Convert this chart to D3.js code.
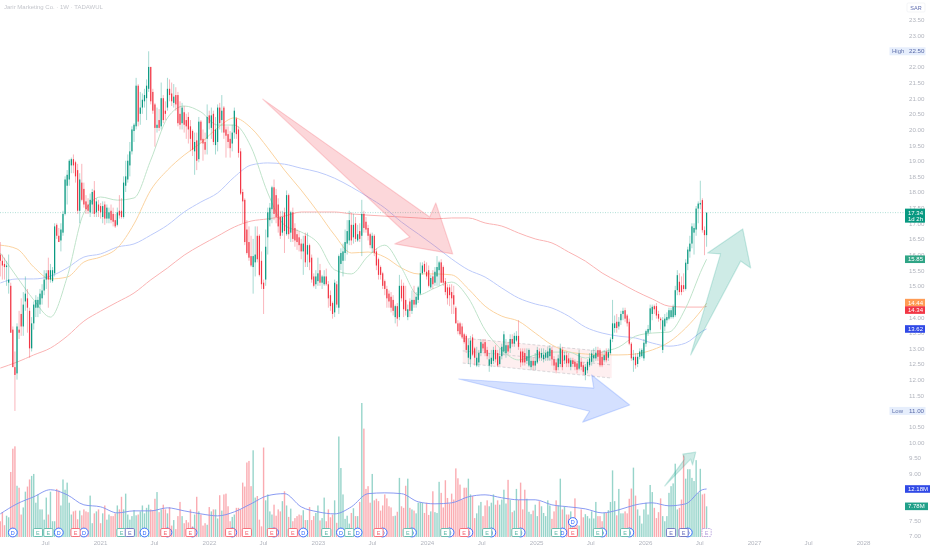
<!DOCTYPE html>
<html>
<head>
<meta charset="utf-8">
<script src="https://cdn.jsdelivr.net/npm/d3@7"></script>
<style>
  html, body { margin: 0; padding: 0; background: #fff; overflow: hidden; }
  svg { display: block; font-family: "Liberation Sans", Arial, sans-serif; filter: blur(0.3px); }
</style>
</head>
<body>
<div id="chart"></div>
<script>
// Weekly candles (first week 2020-02-02)
var opens = [
  16.0,15.8,15.7,15.6,15.1,15.0,13.6,12.4,12.2,13.6,
  14.1,13.7,14.5,14.6,14.2,13.0,13.8,14.3,14.3,14.4,
  14.6,14.85,15.2,15.5,15.2,15.15,15.4,16.95,16.6,16.45,
  16.7,17.3,18.2,18.4,18.85,19.05,18.95,18.7,17.4,18.3,
  18.1,17.7,17.6,17.35,17.6,18.05,17.35,17.6,17.55,17.2,
  17.6,17.15,17.15,17.4,17.3,17.1,16.95,17.4,17.4,17.2,
  18.2,18.4,18.85,19.3,19.95,20.1,21.4,20.5,20.7,20.9,
  21.0,21.3,22.0,21.2,20.8,20.05,20.3,20.1,21.0,20.6,
  20.7,21.3,21.15,20.85,21.1,21.1,20.5,20.2,20.55,20.3,
  20.4,20.1,19.95,19.3,19.65,19.05,20.25,19.7,19.6,19.7,
  20.45,20.05,20.5,19.5,19.6,20.7,20.3,20.7,20.0,19.85,
  19.7,19.55,19.9,20.35,20.0,19.3,18.0,17.75,16.8,16.4,
  15.95,15.6,15.75,16.6,16.6,15.8,15.1,15.2,16.55,17.1,
  17.45,18.15,17.9,17.6,17.2,16.7,17.35,16.65,17.9,16.7,
  17.35,16.85,16.65,16.55,16.35,16.1,16.6,16.0,16.3,15.9,
  15.3,15.05,15.15,15.5,15.1,15.05,15.3,15.05,14.7,14.45,
  14.15,15.05,14.3,15.7,15.8,16.05,16.35,16.45,16.95,16.55,
  17.0,16.45,16.75,16.6,17.3,17.05,16.85,16.65,16.2,16.6,
  16.1,15.85,15.6,15.4,15.15,14.9,14.75,14.65,14.55,14.0,
  14.35,14.0,15.0,15.0,14.55,14.0,14.5,14.2,14.55,14.4,
  14.55,14.75,15.4,15.7,15.45,15.5,14.95,15.3,15.1,15.3,
  15.5,15.75,15.6,15.15,14.95,14.95,14.8,14.7,14.3,13.8,
  13.8,13.7,13.45,13.4,12.7,12.65,13.35,13.0,12.45,12.55,
  12.85,13.15,13.2,12.95,12.45,12.5,12.6,12.95,12.85,12.5,
  12.75,12.9,12.85,13.1,13.0,13.3,13.15,13.25,13.4,12.9,
  12.9,12.85,12.6,12.45,12.4,12.6,12.45,12.55,12.9,12.7,
  12.65,12.7,12.7,12.75,12.95,12.65,12.55,12.4,12.5,12.95,
  12.62,12.78,12.68,12.41,12.62,12.57,12.52,12.35,12.57,12.46,
  12.15,12.3,12.46,12.57,12.68,12.68,12.94,12.94,12.73,12.62,
  12.9,12.7,12.85,13.3,13.65,13.85,13.7,13.9,14.1,14.22,
  14.05,13.85,13.15,12.62,12.73,12.5,12.73,12.75,12.68,13.15,
  13.5,13.58,14.1,14.35,14.35,14.1,13.95,12.95,13.7,13.9,
  13.95,14.0,14.0,14.06,14.86,15.13,15.02,15.02,14.9,15.7,
  16.1,16.35,16.7,16.8,17.47,17.6,17.74,16.78,16.62
];
var highs = [
  16.4,16.0,15.9,15.8,16.0,15.1,13.7,12.9,13.8,14.2,
  14.6,14.8,15.3,14.9,14.3,14.0,14.5,14.7,14.65,14.9,
  15.05,15.5,15.5,15.9,15.7,15.6,17.0,17.0,16.85,17.0,
  17.4,18.5,18.7,19.05,19.1,19.2,19.0,18.9,18.6,18.9,
  18.3,17.9,17.8,17.95,18.1,18.35,17.8,17.75,17.65,17.7,
  17.7,17.6,17.5,17.6,17.5,17.3,17.5,17.9,17.8,18.5,
  19.0,19.2,19.6,20.1,20.2,21.65,21.45,21.2,21.15,21.3,
  21.6,22.5,22.0,21.3,20.85,20.7,20.65,21.5,21.1,20.9,
  21.65,21.6,21.5,21.45,21.35,21.2,20.9,20.85,20.75,20.5,
  20.55,20.3,20.0,19.9,19.9,20.4,20.3,20.0,19.9,20.8,
  20.6,20.7,20.6,20.4,20.8,20.85,21.1,20.75,20.1,20.1,
  19.95,20.15,20.7,20.4,20.1,19.4,18.1,17.8,17.1,16.9,
  16.6,16.5,16.9,16.9,16.65,16.1,15.2,16.8,17.5,17.65,
  18.2,18.4,18.1,17.8,17.4,17.4,17.5,18.05,17.95,17.4,
  17.5,17.0,16.8,16.75,16.5,16.6,16.7,16.7,16.35,16.0,
  15.4,15.5,15.9,15.7,15.35,15.5,15.55,15.15,14.85,14.5,
  15.2,15.15,16.0,16.2,16.35,16.8,17.1,17.4,17.35,17.3,
  17.2,16.95,17.0,17.75,17.4,17.2,16.95,16.7,16.7,16.65,
  16.2,15.9,15.65,15.45,15.2,15.0,14.85,14.8,14.7,14.4,
  14.45,15.35,15.2,15.1,15.0,14.4,14.6,14.85,15.0,14.8,
  15.0,15.75,15.75,15.8,15.75,15.65,15.35,15.5,15.6,15.95,
  15.8,15.85,15.65,15.25,15.05,15.05,15.05,15.0,14.35,13.9,
  13.85,13.8,13.5,13.45,13.3,13.4,13.45,13.05,13.05,12.95,
  13.3,13.3,13.3,13.05,12.85,12.95,13.05,13.1,12.95,13.0,
  13.15,13.55,13.3,13.2,13.45,13.45,13.5,13.55,13.9,13.0,
  13.0,13.0,13.0,13.0,12.75,12.7,12.85,13.05,13.0,13.0,
  13.0,12.95,13.05,13.1,13.05,12.75,12.65,12.8,13.15,13.05,
  12.9,12.9,12.85,12.7,12.7,12.65,12.6,12.95,12.7,12.55,
  12.5,12.65,12.85,12.95,13.0,13.05,13.05,13.0,12.9,12.95,
  13.0,13.0,13.35,14.55,14.05,14.1,14.0,14.2,14.3,14.3,
  14.1,13.95,13.2,12.95,12.85,12.85,13.0,13.0,13.3,13.6,
  13.75,14.4,14.4,14.4,14.45,14.2,14.0,14.0,14.1,14.15,
  14.3,14.3,14.4,15.0,15.5,15.4,15.3,15.4,15.85,16.25,
  16.6,17.0,17.0,17.55,17.7,18.36,17.8,16.9,17.34
];
var lows = [
  15.3,15.2,15.2,15.0,14.75,13.5,12.4,11.0,12.0,13.3,
  13.4,13.4,14.2,13.5,12.7,12.9,13.6,14.0,14.0,14.1,
  14.4,14.7,14.9,14.3,15.1,15.1,15.3,16.5,16.4,16.1,
  16.6,17.25,17.6,18.2,18.6,18.6,18.3,17.3,17.0,17.7,
  17.5,17.3,17.3,17.2,17.3,17.2,17.2,17.2,17.15,17.0,
  16.95,17.0,17.0,17.0,16.9,16.85,16.9,17.15,17.15,17.15,
  18.0,18.3,18.5,19.2,19.6,20.0,20.1,20.15,20.5,20.7,
  20.3,21.2,20.8,20.5,19.45,19.9,19.95,20.0,20.2,20.3,
  20.6,20.9,20.75,20.7,20.6,20.1,20.0,20.0,19.9,19.7,
  19.55,19.3,19.15,18.55,18.7,18.95,19.55,19.0,19.2,19.2,
  20.0,19.7,19.5,19.2,19.3,20.0,19.9,19.7,19.1,19.4,
  19.1,19.3,19.7,19.7,19.1,17.9,17.0,16.3,16.0,15.8,
  15.6,14.75,15.3,15.75,15.3,14.9,14.1,15.0,16.0,16.9,
  17.0,17.1,17.0,16.7,16.5,16.6,16.05,16.6,16.5,16.4,
  16.4,16.25,16.15,16.1,15.85,15.35,15.6,15.6,15.5,15.1,
  14.95,14.9,15.0,15.0,14.9,15.0,15.0,14.3,14.2,13.95,
  14.0,14.3,14.1,15.5,15.3,15.8,16.0,16.3,16.3,16.35,
  16.4,16.4,16.4,15.95,16.7,16.7,16.45,16.2,16.05,15.95,
  15.5,15.2,15.2,14.9,14.7,14.3,14.3,14.15,14.05,13.8,
  13.7,13.9,14.5,14.0,14.05,13.9,14.0,14.1,14.3,14.3,
  14.45,14.7,15.35,15.4,15.2,14.95,14.9,14.9,15.0,15.0,
  15.0,15.1,15.0,14.7,14.4,14.35,14.1,14.1,13.8,13.45,
  13.4,13.3,13.15,12.85,12.5,12.4,12.75,12.45,12.4,12.4,
  12.75,12.9,12.75,12.65,12.25,12.4,12.5,12.55,12.4,12.45,
  12.65,12.8,12.7,12.8,12.85,13.05,13.05,13.2,12.95,12.4,
  12.45,12.45,12.5,12.4,12.3,12.3,12.3,12.5,12.6,12.6,
  12.55,12.6,12.6,12.6,12.45,12.3,12.2,12.3,12.4,12.3,
  12.5,12.4,12.4,12.3,12.4,12.3,12.2,12.3,12.3,12.15,
  11.98,12.2,12.4,12.45,12.55,12.6,12.6,12.4,12.4,12.55,
  12.55,12.6,12.8,13.2,13.5,13.5,13.6,13.75,13.9,13.85,
  13.7,13.1,12.6,12.25,12.35,12.4,12.65,12.7,12.6,13.05,
  13.4,13.5,13.9,14.1,13.95,13.85,13.6,12.85,13.55,13.8,
  13.9,13.95,13.95,14.0,14.7,14.7,14.7,14.8,14.85,15.5,
  15.9,16.2,16.0,16.6,17.0,17.45,16.7,15.98,16.25
];
var closes = [
  15.8,15.65,15.6,15.65,15.2,13.5,12.4,12.15,13.7,13.5,
  13.7,14.4,14.75,14.3,13.0,13.8,14.4,14.55,14.55,14.75,
  14.85,15.2,15.4,15.2,15.5,15.5,16.9,16.6,16.4,16.8,
  17.3,18.4,18.55,19.0,19.05,18.85,18.5,17.4,18.4,17.75,
  17.6,17.45,17.4,17.75,18.0,17.3,17.7,17.4,17.35,17.55,
  17.15,17.5,17.35,17.1,17.05,16.9,17.35,17.25,17.2,18.3,
  18.5,19.0,19.3,20.0,20.15,21.4,20.25,20.7,20.95,21.1,
  21.4,22.0,20.9,20.6,20.05,20.15,20.05,21.0,20.3,20.5,
  21.3,21.1,20.9,21.05,20.8,20.2,20.15,20.7,20.15,20.1,
  20.0,19.7,19.35,19.6,19.0,20.25,19.65,19.55,19.35,20.4,
  20.2,20.45,19.6,20.0,20.7,20.2,20.6,19.9,19.8,19.6,
  19.4,19.9,20.6,19.85,19.25,17.95,17.7,16.4,16.05,15.9,
  15.65,15.95,16.0,15.85,15.35,15.05,14.9,16.25,17.35,17.5,
  18.15,17.3,17.2,16.9,16.6,17.2,16.75,17.9,16.65,17.35,
  16.5,16.45,16.4,16.3,16.1,16.35,15.75,16.3,15.75,15.2,
  15.0,15.3,15.4,15.1,15.3,15.3,15.05,14.6,14.35,14.1,
  15.1,14.4,15.95,16.05,16.1,16.4,16.75,17.1,16.45,16.95,
  16.5,16.65,16.5,17.3,16.85,16.8,16.6,16.3,16.6,16.05,
  15.65,15.35,15.35,15.0,14.9,14.6,14.5,14.3,14.2,14.35,
  13.95,15.0,14.6,14.25,14.2,14.25,14.2,14.55,14.4,14.65,
  14.95,15.4,15.65,15.45,15.3,15.0,15.25,15.05,15.45,15.6,
  15.75,15.1,15.1,14.8,14.6,14.7,14.6,14.4,13.8,13.55,
  13.45,13.35,13.2,12.95,13.1,13.25,12.8,12.7,12.7,12.85,
  13.2,13.0,12.85,12.75,12.65,12.7,12.95,12.65,12.45,12.75,
  13.05,13.45,13.1,12.9,13.3,13.15,13.4,13.4,13.05,12.55,
  12.55,12.55,12.75,12.95,12.6,12.45,12.6,12.95,12.7,12.85,
  12.8,12.85,12.9,13.0,12.65,12.45,12.3,12.68,13.0,12.4,
  12.78,12.52,12.52,12.62,12.5,12.41,12.32,12.84,12.41,12.25,
  12.41,12.57,12.68,12.84,12.78,12.86,12.73,12.46,12.46,12.78,
  12.62,12.88,13.28,13.8,13.8,13.65,13.85,14.1,14.2,13.95,
  13.8,13.15,12.68,12.73,12.46,12.73,12.9,12.95,13.18,13.55,
  13.62,14.28,14.33,14.25,14.05,13.95,13.9,13.9,13.95,14.0,
  14.22,14.22,14.33,14.86,15.34,14.8,14.8,14.9,15.74,16.16,
  16.35,16.9,16.85,17.47,17.63,17.65,16.78,16.62,17.34
];
// Volume per week, millions
var volumes = [
  4,6.3,3,5.4,5,16.5,22.4,23,13,12.5,
  5.7,7.5,11.5,12.8,14.6,15.5,16,8.7,10.8,7,
  7,4.4,10,5.7,11.5,4,4,12.2,11.8,8,
  14.6,12,13.8,8.7,5.7,6.5,6.7,4.5,6.7,5.5,
  7,6.5,6.3,10.5,3.5,6,6.5,7,3.5,6,
  8,4.4,5.7,5.3,5.3,6,8,7,10.2,7,
  11,5.7,4.4,5.3,6.8,5.5,5.7,6.5,8,6,
  7.4,8.2,7,6.8,9.7,11.4,6.3,7,8.2,7,
  6,7.6,2.9,4.3,2,5.3,8.9,5.3,3.5,4.3,
  3.7,7,2.7,5.7,10.2,6.5,5.7,2.9,3.5,3.1,
  7.6,6.5,7,7,4.7,10.6,6.7,10.8,11,7.8,
  4,5.1,5.7,7.4,7.4,7,13.8,12.8,18.9,19.3,
  12.9,22,10,10.4,4.4,2.7,22.7,9.3,10.8,6.5,
  5.7,8.2,5.4,7,6.5,9.1,11.6,8,5.1,7.2,
  4,4.8,5.3,5.7,5.5,6.8,4.3,4.3,7.6,4.3,
  5.3,6.1,8,4.2,4.8,10,4,7,5,5.7,
  9.3,3.6,25.5,17.5,10.8,4.6,5.4,3.4,6.1,7.3,
  5.3,5.3,8.9,34,27.5,12.2,12.9,8.7,16,9.3,
  9.7,9.1,6.7,8,10.8,9.8,7.8,7.5,5.3,5.4,
  6.4,15,7.8,7.4,13,14.8,7.4,7,6.7,6,
  8.7,8.8,8.7,6.1,8.7,5.6,6.5,11.6,6.3,6.1,
  14,11.2,7.5,14.4,9.9,8.5,11,9.5,17.4,14.9,
  13.3,9.5,12.5,12.5,14.8,10.8,10.4,4.8,6,8,
  8.9,5.3,8,9.3,7.8,8.7,10.8,8.2,9.3,8.2,
  9.5,12,8.5,14.5,9.4,6.3,6.7,12.2,9.4,13.8,
  7,12,9.7,6.4,5.8,6.7,8.2,5.3,9.1,7.8,
  6.1,5.3,9.3,8,4.6,6.5,9.3,8,14.8,7,
  7.8,5.7,5.7,6.5,2.7,9.8,3.1,2.9,7,5,
  5.8,5.3,4.7,6.5,4.7,8.9,5.3,5.3,4,6.1,
  6.1,6.8,8.9,16.9,9.1,5.5,12.2,6,6,6.5,
  6,9.7,12.3,17.6,10.5,7,5.4,3.4,7,8.7,
  5.7,13.2,11.4,7.4,4.8,6.3,9.8,5.3,4,5.3,
  11.2,12.9,13.6,18.6,7,7.4,9.5,20.7,14.8,17.2,
  17.2,15,14.2,19.5,11.2,17.3,10.8,11,7.78
];

// Moving averages, one reading every 8 weeks and the last week
var maGreen = [
  16.05,15.28,14.55,14.00,15.28,17.33,17.84,17.74,17.81,19.02,
  20.37,20.75,20.56,20.14,20.14,19.44,17.97,16.94,16.72,16.37,
  15.51,15.38,15.95,16.30,15.57,14.71,14.93,15.12,14.61,13.59,
  12.95,12.63,12.79,12.88,12.88,12.69,12.88,13.04,13.39,13.49,
  13.52,14.29,15.57,15.85
];
var maOrange = [
  16.30,16.18,15.60,15.22,15.28,15.76,15.92,16.21,16.98,18.06,
  18.70,19.18,19.57,20.05,20.37,20.05,19.41,18.70,18.06,17.36,
  16.62,16.05,16.08,15.92,15.57,15.38,15.38,15.35,14.90,14.35,
  14.03,13.87,13.49,13.11,12.89,12.82,12.79,12.79,12.82,12.95,
  13.20,13.65,14.26,14.44
];
var maBlue = [
  15.09,15.22,15.22,15.31,15.57,15.92,16.02,16.24,16.34,16.62,
  16.94,17.36,17.68,17.97,18.48,18.86,18.93,18.89,18.76,18.64,
  18.44,18.16,17.84,17.49,17.04,16.66,16.27,15.86,15.51,15.28,
  14.93,14.61,14.42,14.29,14.03,13.68,13.49,13.39,13.33,13.17,
  13.07,13.17,13.55,13.62
];
var maRed = [
  12.37,12.56,12.79,13.01,13.39,13.87,14.19,14.48,14.77,15.19,
  15.57,15.98,16.30,16.59,16.88,17.07,17.14,17.23,17.36,17.36,
  17.36,17.30,17.26,17.23,17.20,17.17,17.14,17.17,17.17,17.01,
  16.91,16.69,16.50,16.37,16.08,15.79,15.41,15.12,14.83,14.58,
  14.35,14.32,14.32,14.34
];
var volumeMa = [
  5.87,8.42,10.2,12.0,10.7,8.16,7.65,6.12,6.63,6.63,
  7.40,6.63,5.87,5.36,6.38,8.42,10.5,11.0,7.65,6.38,
  5.87,7.65,11.0,11.2,11.0,8.93,8.42,8.67,10.2,10.7,
  9.95,9.44,9.44,8.16,7.65,7.14,6.12,6.89,8.16,8.67,
  7.91,8.42,12.0,12.18
];

// Dividend and earnings flags, as week numbers
var dividendWeeks = [6,28,40,69,80,92,111,131,145,163,171,183,197,215,224,235,249,269,288,301,329];
var dividendRaised = [274];
var earningsGreen = [18,23,58,156,167,195,213,233,247,266,286,299];
var earningsRed = [36,79,91,110,118,130,140,181,222,274];
var earningsPurple = [62,321,327];
var earningsNext = [338];

// 8.00, 8.50 and 14.50 sit under the value tags in the picture
var priceTicks = [7,7.5,9,9.5,10,10.5,11,11.5,12,12.5,13,13.5,14,15,15.5,16,16.5,17,17.5,18,18.5,19,19.5,20,20.5,21,21.5,22,22.5,23,23.5];
var timeTicks = ["2020-07-01","2021-01-01","2021-07-01","2022-01-01","2022-07-01","2023-01-01","2023-07-01","2024-01-01","2024-07-01","2025-01-01","2025-07-01","2026-01-01","2026-07-01","2027-01-01","2027-07-01","2028-01-01"];

// Drawings on the chart, [week, price]
var arrowRed = [[125.6,20.97],[205.5,17.2],[208.4,17.65],[216.5,16.02],[188.8,16.34],[196,16.56]];
var arrowBlue = [[219.4,12.02],[284,11.73],[283,12.15],[301.2,11.19],[278.7,10.64],[282,10.99]];
var arrowGreen = [[330.4,12.79],[344.7,16.02],[338.5,16.05],[355.3,16.82],[359.1,15.57],[354.3,15.79]];
var arrowSmall = [[318,8.6],[327.5,9.46],[326.6,9.62],[332.8,9.68],[331.3,9.27],[330.4,9.46]];
var channelTop = [[221.3,13.33],[292.6,12.88]];
var channelMid = [[221.3,12.92],[292.6,12.47]];
var channelBottom = [[221.3,12.53],[292.6,12.05]];

var width = 932, height = 550;
var upColor = "#089981", downColor = "#f23645";

var svg = d3.select("#chart").append("svg")
    .attr("width", width)
    .attr("height", height);

// Scales
var startDay = Date.UTC(2020, 1, 2);
var weekMs = 7 * 24 * 3600 * 1000;
var xTime = d3.scaleUtc()
    .domain([new Date("2021-01-01"), new Date("2028-01-01")])
    .range([100, 863]);
var weekX = i => xTime(new Date(startDay + i * weekMs));
var priceY = d3.scaleLinear().domain([7, 23.5]).range([536, 20]);
var volumeY = d3.scaleLinear().domain([0, 34]).range([537, 403]);

var candles = d3.range(closes.length).map(i => ({
    i: i, o: opens[i], h: highs[i], l: lows[i], c: closes[i], v: volumes[i] || 0
}));
var maWeeks = d3.range(0, 337, 8).concat([338]);

// Volume bars
svg.append("g").selectAll("rect")
    .data(candles)
    .enter().append("rect")
    .attr("x", d => weekX(d.i) - 0.7)
    .attr("width", 1.4)
    .attr("y", d => volumeY(d.v))
    .attr("height", d => volumeY(0) - volumeY(d.v))
    .attr("fill", d => d.c >= d.o ? upColor : downColor)
    .attr("opacity", 0.42);

// Drawn shapes
var pointLine = d3.line().x(d => weekX(d[0])).y(d => priceY(d[1]));

svg.append("path")
    .attr("d", pointLine(channelTop.concat(channelBottom.slice().reverse())) + "Z")
    .attr("fill", "#f23645").attr("fill-opacity", 0.08);
[channelTop, channelMid, channelBottom].forEach(points => {
    svg.append("path")
        .attr("d", pointLine(points))
        .attr("fill", "none")
        .attr("stroke", "#9598a1").attr("stroke-opacity", 0.6)
        .attr("stroke-width", 0.6)
        .attr("stroke-dasharray", "3,2");
});

// Last price line
svg.append("line")
    .attr("x1", 0).attr("x2", 905)
    .attr("y1", priceY(closes[closes.length - 1]))
    .attr("y2", priceY(closes[closes.length - 1]))
    .attr("stroke", upColor).attr("stroke-opacity", 0.45)
    .attr("stroke-width", 0.7)
    .attr("stroke-dasharray", "1,1.5");

// Moving averages
var maLine = d3.line().curve(d3.curveMonotoneX)
    .x((d, k) => weekX(maWeeks[k]))
    .y(d => priceY(d));
[[maRed, "#fab3b3"], [maBlue, "#bccafa"], [maOrange, "#fbd3a0"], [maGreen, "#bfe3ca"]].forEach(s => {
    svg.append("path")
        .attr("d", maLine(s[0]))
        .attr("fill", "none")
        .attr("stroke", s[1])
        .attr("stroke-width", 1);
});

// Candles
var candleGroup = svg.append("g");
candleGroup.selectAll("line")
    .data(candles)
    .enter().append("line")
    .attr("x1", d => weekX(d.i)).attr("x2", d => weekX(d.i))
    .attr("y1", d => priceY(d.h)).attr("y2", d => priceY(d.l))
    .attr("stroke", d => d.c >= d.o ? upColor : downColor)
    .attr("stroke-opacity", 0.36)
    .attr("stroke-width", 1);
candleGroup.selectAll("rect")
    .data(candles)
    .enter().append("rect")
    .attr("x", d => weekX(d.i) - 0.6)
    .attr("width", 1.2)
    .attr("y", d => priceY(Math.max(d.o, d.c)))
    .attr("height", d => Math.max(0.6, Math.abs(priceY(d.o) - priceY(d.c))))
    .attr("fill", d => d.c >= d.o ? upColor : downColor);

// Arrows sit on top of the candles
[[arrowRed, "#f23645"], [arrowBlue, "#2962ff"], [arrowGreen, "#089981"], [arrowSmall, "#089981"]].forEach(a => {
    svg.append("path")
        .attr("d", pointLine(a[0]) + "Z")
        .attr("fill", a[1]).attr("fill-opacity", 0.2)
        .attr("stroke", a[1]).attr("stroke-opacity", 0.2)
        .attr("stroke-width", 1.2)
        .attr("stroke-linejoin", "round");
});

// Volume average
var volLine = d3.line().curve(d3.curveMonotoneX)
    .x((d, k) => weekX(maWeeks[k]))
    .y(d => volumeY(d));
svg.append("path")
    .attr("d", volLine(volumeMa))
    .attr("fill", "none")
    .attr("stroke", "#7c8ff0")
    .attr("stroke-width", 0.9);

// Flags under the volume bars
function drawDividend(weeks, y) {
    var g = svg.append("g").selectAll("g")
        .data(weeks).enter().append("g")
        .attr("transform", d => `translate(${weekX(d)},${y})`);
    g.append("circle").attr("r", 4.4).attr("fill", "#fff").attr("stroke", "#2962ff").attr("stroke-width", 0.9);
    g.append("text").attr("text-anchor", "middle").attr("dy", 2).attr("font-size", 5.5).attr("fill", "#2962ff").text("D");
}
function drawEarnings(weeks, color, dash) {
    var g = svg.append("g").selectAll("g")
        .data(weeks).enter().append("g")
        .attr("transform", d => `translate(${weekX(d)},532.5)`);
    g.append("rect").attr("x", -4.6).attr("y", -4).attr("width", 9.2).attr("height", 8).attr("rx", 1.2)
        .attr("fill", "#fff").attr("stroke", color).attr("stroke-width", 0.9)
        .attr("stroke-dasharray", dash);
    g.append("text").attr("text-anchor", "middle").attr("dy", 2).attr("font-size", 5.5).attr("fill", color).text("E");
}
drawDividend(dividendWeeks, 532.5);
drawEarnings(earningsGreen, "#5cb8a8", null);
drawEarnings(earningsRed, "#f5636f", null);
drawEarnings(earningsPurple, "#6a6fc0", null);
drawDividend(dividendRaised, 522);
drawEarnings(earningsNext, "#b39ddb", "1.5,1");

// Axes
var priceAxis = svg.append("g")
    .attr("transform", "translate(908,0)")
    .call(d3.axisRight(priceY).tickValues(priceTicks).tickSize(0).tickPadding(1).tickFormat(d3.format(".2f")));
priceAxis.select(".domain").remove();
priceAxis.selectAll("text").attr("font-size", 6.2).attr("font-family", "inherit").attr("fill", "#b2b5be");

var timeAxis = svg.append("g")
    .attr("transform", "translate(0,538.5)")
    .call(d3.axisBottom(xTime)
        .tickValues(timeTicks.map(d => new Date(d)))
        .tickSize(0).tickPadding(2)
        .tickFormat(d => d.getUTCMonth() === 0 ? d.getUTCFullYear() : "Jul"));
timeAxis.select(".domain").remove();
timeAxis.selectAll("text").attr("font-size", 6.2).attr("font-family", "inherit").attr("fill", "#b2b5be");

// Title and currency
svg.append("text").attr("x", 4).attr("y", 9)
    .attr("font-size", 6).attr("fill", "#c4c6cc")
    .text("Jarir Marketing Co. · 1W · TADAWUL");
svg.append("rect").attr("x", 907).attr("y", 3).attr("width", 18).attr("height", 9).attr("rx", 1.5)
    .attr("fill", "#fff").attr("stroke", "#eceef2").attr("stroke-width", 0.6);
svg.append("text").attr("x", 916).attr("y", 9.7).attr("text-anchor", "middle")
    .attr("font-size", 5.5).attr("fill", "#5f6db0").text("SAR");

// High and low tags
function hiLoTag(name, value) {
    var y = priceY(value);
    svg.append("rect").attr("x", 889.5).attr("y", y - 4).attr("width", 36).attr("height", 8).attr("fill", "#e6eefc");
    svg.append("text").attr("x", 892).attr("y", y + 2).attr("font-size", 6).attr("fill", "#6474ac").text(name);
    svg.append("text").attr("x", 909).attr("y", y + 2).attr("font-size", 6.2).attr("fill", "#5a6aa8").text(value.toFixed(2));
}
hiLoTag("High", d3.max(highs));
hiLoTag("Low", d3.min(lows));

// Value tags on the right, orange and red pushed apart as in the picture
function valueTag(y, label, color, w) {
    svg.append("rect").attr("x", 905).attr("y", y - 3.8).attr("width", w).attr("height", 7.6).attr("fill", color);
    svg.append("text").attr("x", 908).attr("y", y + 2).attr("font-size", 6).attr("fill", "#fff").text(label);
}
var fmt = d3.format(".2f");
valueTag(priceY(maGreen[43]), fmt(maGreen[43]), "#2fa586", 20);
valueTag(priceY(maOrange[43]) - 0.7, fmt(maOrange[43]), "#ff9c55", 20);
valueTag(priceY(maRed[43]) + 3.6, fmt(maRed[43]), "#f23645", 20);
valueTag(priceY(maBlue[43]), fmt(maBlue[43]), "#3049e6", 20);
valueTag(volumeY(volumeMa[43]), fmt(volumeMa[43]) + "M", "#3049e6", 25);
valueTag(volumeY(volumes[volumes.length - 1]), fmt(volumes[volumes.length - 1]) + "M", "#22a08a", 23);

// Last price with countdown
var lastY = priceY(closes[closes.length - 1]);
svg.append("rect").attr("x", 905).attr("y", lastY - 4).attr("width", 20).attr("height", 14).attr("fill", upColor);
svg.append("text").attr("x", 908).attr("y", lastY + 2).attr("font-size", 6).attr("fill", "#fff").text(fmt(closes[closes.length - 1]));
svg.append("text").attr("x", 908).attr("y", lastY + 8.5).attr("font-size", 6).attr("fill", "#fff").text("1d 2h");
</script>
</body>
</html>
